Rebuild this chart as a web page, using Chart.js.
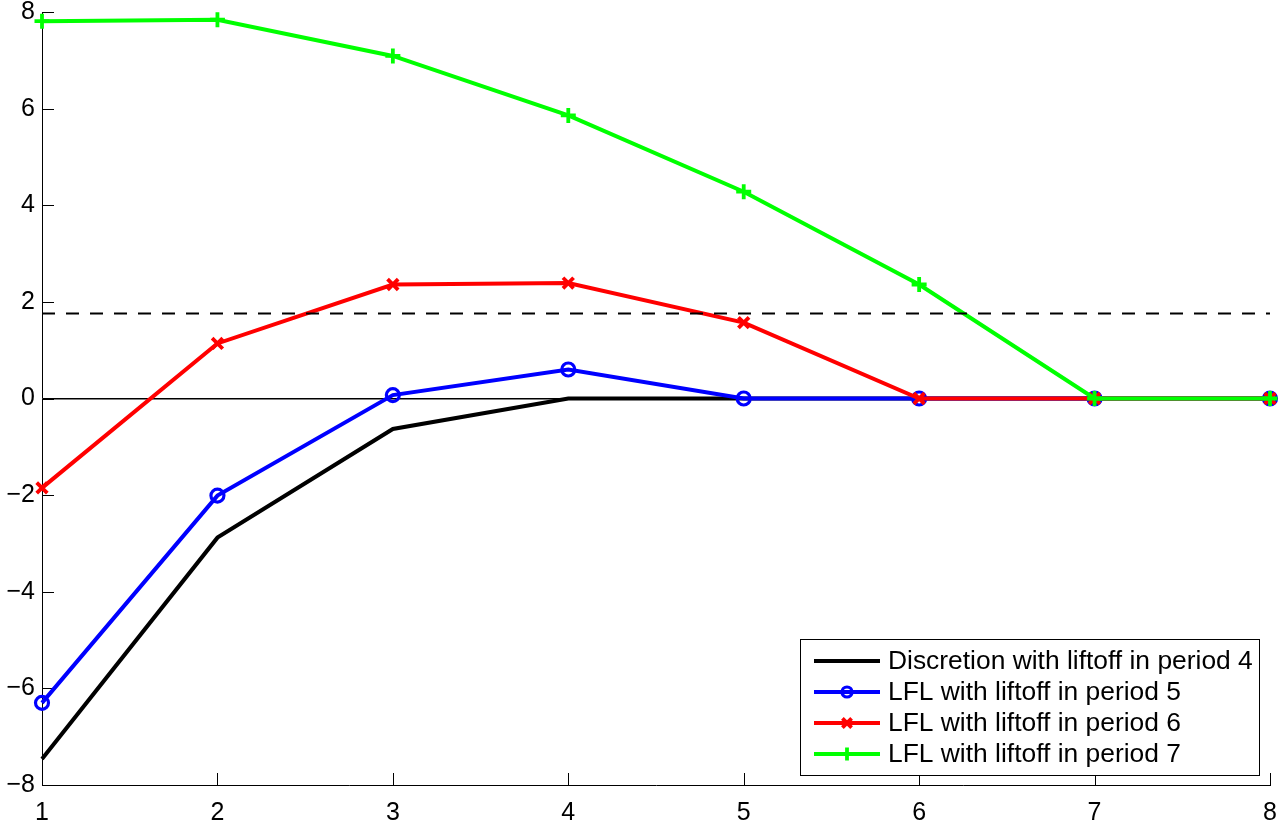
<!DOCTYPE html>
<html><head><meta charset="utf-8">
<script src="https://cdn.jsdelivr.net/npm/chart.js@4/dist/chart.umd.min.js"></script>
<style>html,body{margin:0;padding:0;background:#fff;}</style>
</head><body>
<canvas id="c" width="1287" height="820"></canvas>
<script>
const periods = [1, 2, 3, 4, 5, 6, 7, 8];
const discretion4 = [-7.46, -2.88, -0.63, 0, 0, 0, 0, 0];
const lfl5 = [-6.30, -2.01, 0.07, 0.60, 0, 0, 0, 0];
const lfl6 = [-1.85, 1.14, 2.36, 2.39, 1.57, 0, 0, 0];
const lfl7 = [7.81, 7.84, 7.09, 5.86, 4.28, 2.36, 0, 0];
const thresholdValue = 1.76;
const seriesLabels = [
  'Discretion with liftoff in period 4',
  'LFL with liftoff in period 5',
  'LFL with liftoff in period 6',
  'LFL with liftoff in period 7'
];
const xTickValues = [1, 2, 3, 4, 5, 6, 7, 8];
const yTickValues = [-8, -6, -4, -2, 0, 2, 4, 6, 8];

const FONT = '"Liberation Sans", Arial, Helvetica, sans-serif';
const pts = arr => periods.map((p, i) => ({x: p, y: arr[i]}));

const axisTicks = {
  id: 'axisTicks',
  beforeDatasetsDraw(chart) {
    const {ctx, chartArea, scales} = chart;
    ctx.save();
    ctx.strokeStyle = '#000';
    ctx.lineWidth = 1;
    const L = 12;
    xTickValues.forEach(v => {
      const x = Math.round(scales.x.getPixelForValue(v)) + 0.5;
      ctx.beginPath();
      ctx.moveTo(x, chartArea.bottom);
      ctx.lineTo(x, chartArea.bottom - L);
      ctx.stroke();
    });
    yTickValues.forEach(v => {
      const y = Math.round(scales.y.getPixelForValue(v)) + 0.5;
      ctx.beginPath();
      ctx.moveTo(chartArea.left, y);
      ctx.lineTo(chartArea.left + L, y);
      ctx.stroke();
    });
    ctx.restore();
  }
};

const boxLegend = {
  id: 'boxLegend',
  afterDraw(chart) {
    const {ctx, chartArea} = chart;
    const items = chart.data.datasets.filter(d => d.label);
    const rowH = 31, boxW = 459, boxH = 136;
    const right = chartArea.right - 11, bottom = chartArea.bottom - 10;
    const left = right - boxW, top = bottom - boxH;
    ctx.save();
    ctx.fillStyle = '#fff';
    ctx.fillRect(left, top, boxW, boxH);
    ctx.strokeStyle = '#000';
    ctx.lineWidth = 1;
    ctx.strokeRect(Math.round(left) + 0.5, Math.round(top) + 0.5, boxW, boxH);
    ctx.font = '26.4px ' + FONT;
    ctx.textBaseline = 'middle';
    ctx.textAlign = 'left';
    items.forEach((d, i) => {
      const cy = top + 22 + i * rowH;
      const x0 = left + 14, x1 = left + 80;
      ctx.strokeStyle = d.borderColor;
      ctx.lineWidth = d.borderWidth;
      ctx.setLineDash([]);
      ctx.beginPath();
      ctx.moveTo(x0, cy);
      ctx.lineTo(x1, cy);
      ctx.stroke();
      if (d.pointRadius > 0) {
        ctx.strokeStyle = d.borderColor;
        ctx.fillStyle = 'rgba(0,0,0,0)';
        ctx.lineWidth = d.pointBorderWidth;
        Chart.helpers.drawPoint(ctx, {
          pointStyle: d.pointStyle,
          radius: d.pointStyle === 'circle' ? 5 : d.pointRadius - 1,
          borderWidth: d.pointBorderWidth,
          rotation: 0
        }, (x0 + x1) / 2, cy);
      }
      ctx.fillStyle = '#000';
      ctx.fillText(d.label, left + 88, cy + 1);
    });
    ctx.restore();
  }
};

new Chart(document.getElementById('c'), {
  type: 'line',
  data: {
    datasets: [
      {
        data: [{x: periods[0], y: thresholdValue}, {x: periods[periods.length - 1], y: thresholdValue}],
        borderColor: '#000', borderWidth: 2, borderDash: [13, 11], pointRadius: 0, order: 0, clip: false
      },
      {
        label: seriesLabels[0], data: pts(discretion4), borderColor: '#000', borderWidth: 4,
        pointRadius: 0, order: 4, clip: false
      },
      {
        label: seriesLabels[1], data: pts(lfl5), borderColor: '#0000ff', borderWidth: 4,
        pointStyle: 'circle', pointRadius: 6.5, pointBorderWidth: 3.2, pointBackgroundColor: 'rgba(0,0,0,0)',
        pointBorderColor: '#0000ff', order: 3, clip: false
      },
      {
        label: seriesLabels[2], data: pts(lfl6), borderColor: '#ff0000', borderWidth: 4,
        pointStyle: 'crossRot', pointRadius: 7.5, pointBorderWidth: 3.8,
        pointBorderColor: '#ff0000', order: 2, clip: false
      },
      {
        label: seriesLabels[3], data: pts(lfl7), borderColor: '#00ff00', borderWidth: 4,
        pointStyle: 'cross', pointRadius: 7.5, pointBorderWidth: 3.8,
        pointBorderColor: '#00ff00', order: 1, clip: false
      }
    ]
  },
  options: {
    responsive: false,
    animation: false,
    devicePixelRatio: 1,
    layout: {padding: {top: 12, right: 17, left: 0, bottom: 0}},
    plugins: {legend: {display: false}, tooltip: {enabled: false}},
    elements: {line: {tension: 0}},
    scales: {
      x: {
        type: 'linear', min: 1, max: 8,
        afterBuildTicks: s => { s.ticks = xTickValues.map(v => ({value: v})); },
        afterFit: s => { s.height = 35; s.paddingLeft = 0; s.paddingRight = 0; },
        ticks: {color: '#000', font: {family: FONT, size: 25, lineHeight: 1}, padding: 8, maxRotation: 0},
        grid: {display: false},
        border: {display: true, color: '#000', width: 1}
      },
      y: {
        type: 'linear', min: -8, max: 8,
        afterBuildTicks: s => { s.ticks = yTickValues.map(v => ({value: v})); },
        afterFit: s => { s.width = 42; s.paddingTop = 0; s.paddingBottom = 0; },
        ticks: {
          color: '#000', font: {family: FONT, size: 25, lineHeight: 1}, padding: 7,
          callback: v => (v < 0 ? '\u2212' + Math.abs(v) : String(v))
        },
        grid: {
          drawTicks: false,
          color: c => (c.tick && c.tick.value === 0 ? '#000' : 'rgba(0,0,0,0)'),
          lineWidth: 1.5
        },
        border: {display: true, color: '#000', width: 1}
      }
    }
  },
  plugins: [axisTicks, boxLegend]
});
</script>
</body></html>
